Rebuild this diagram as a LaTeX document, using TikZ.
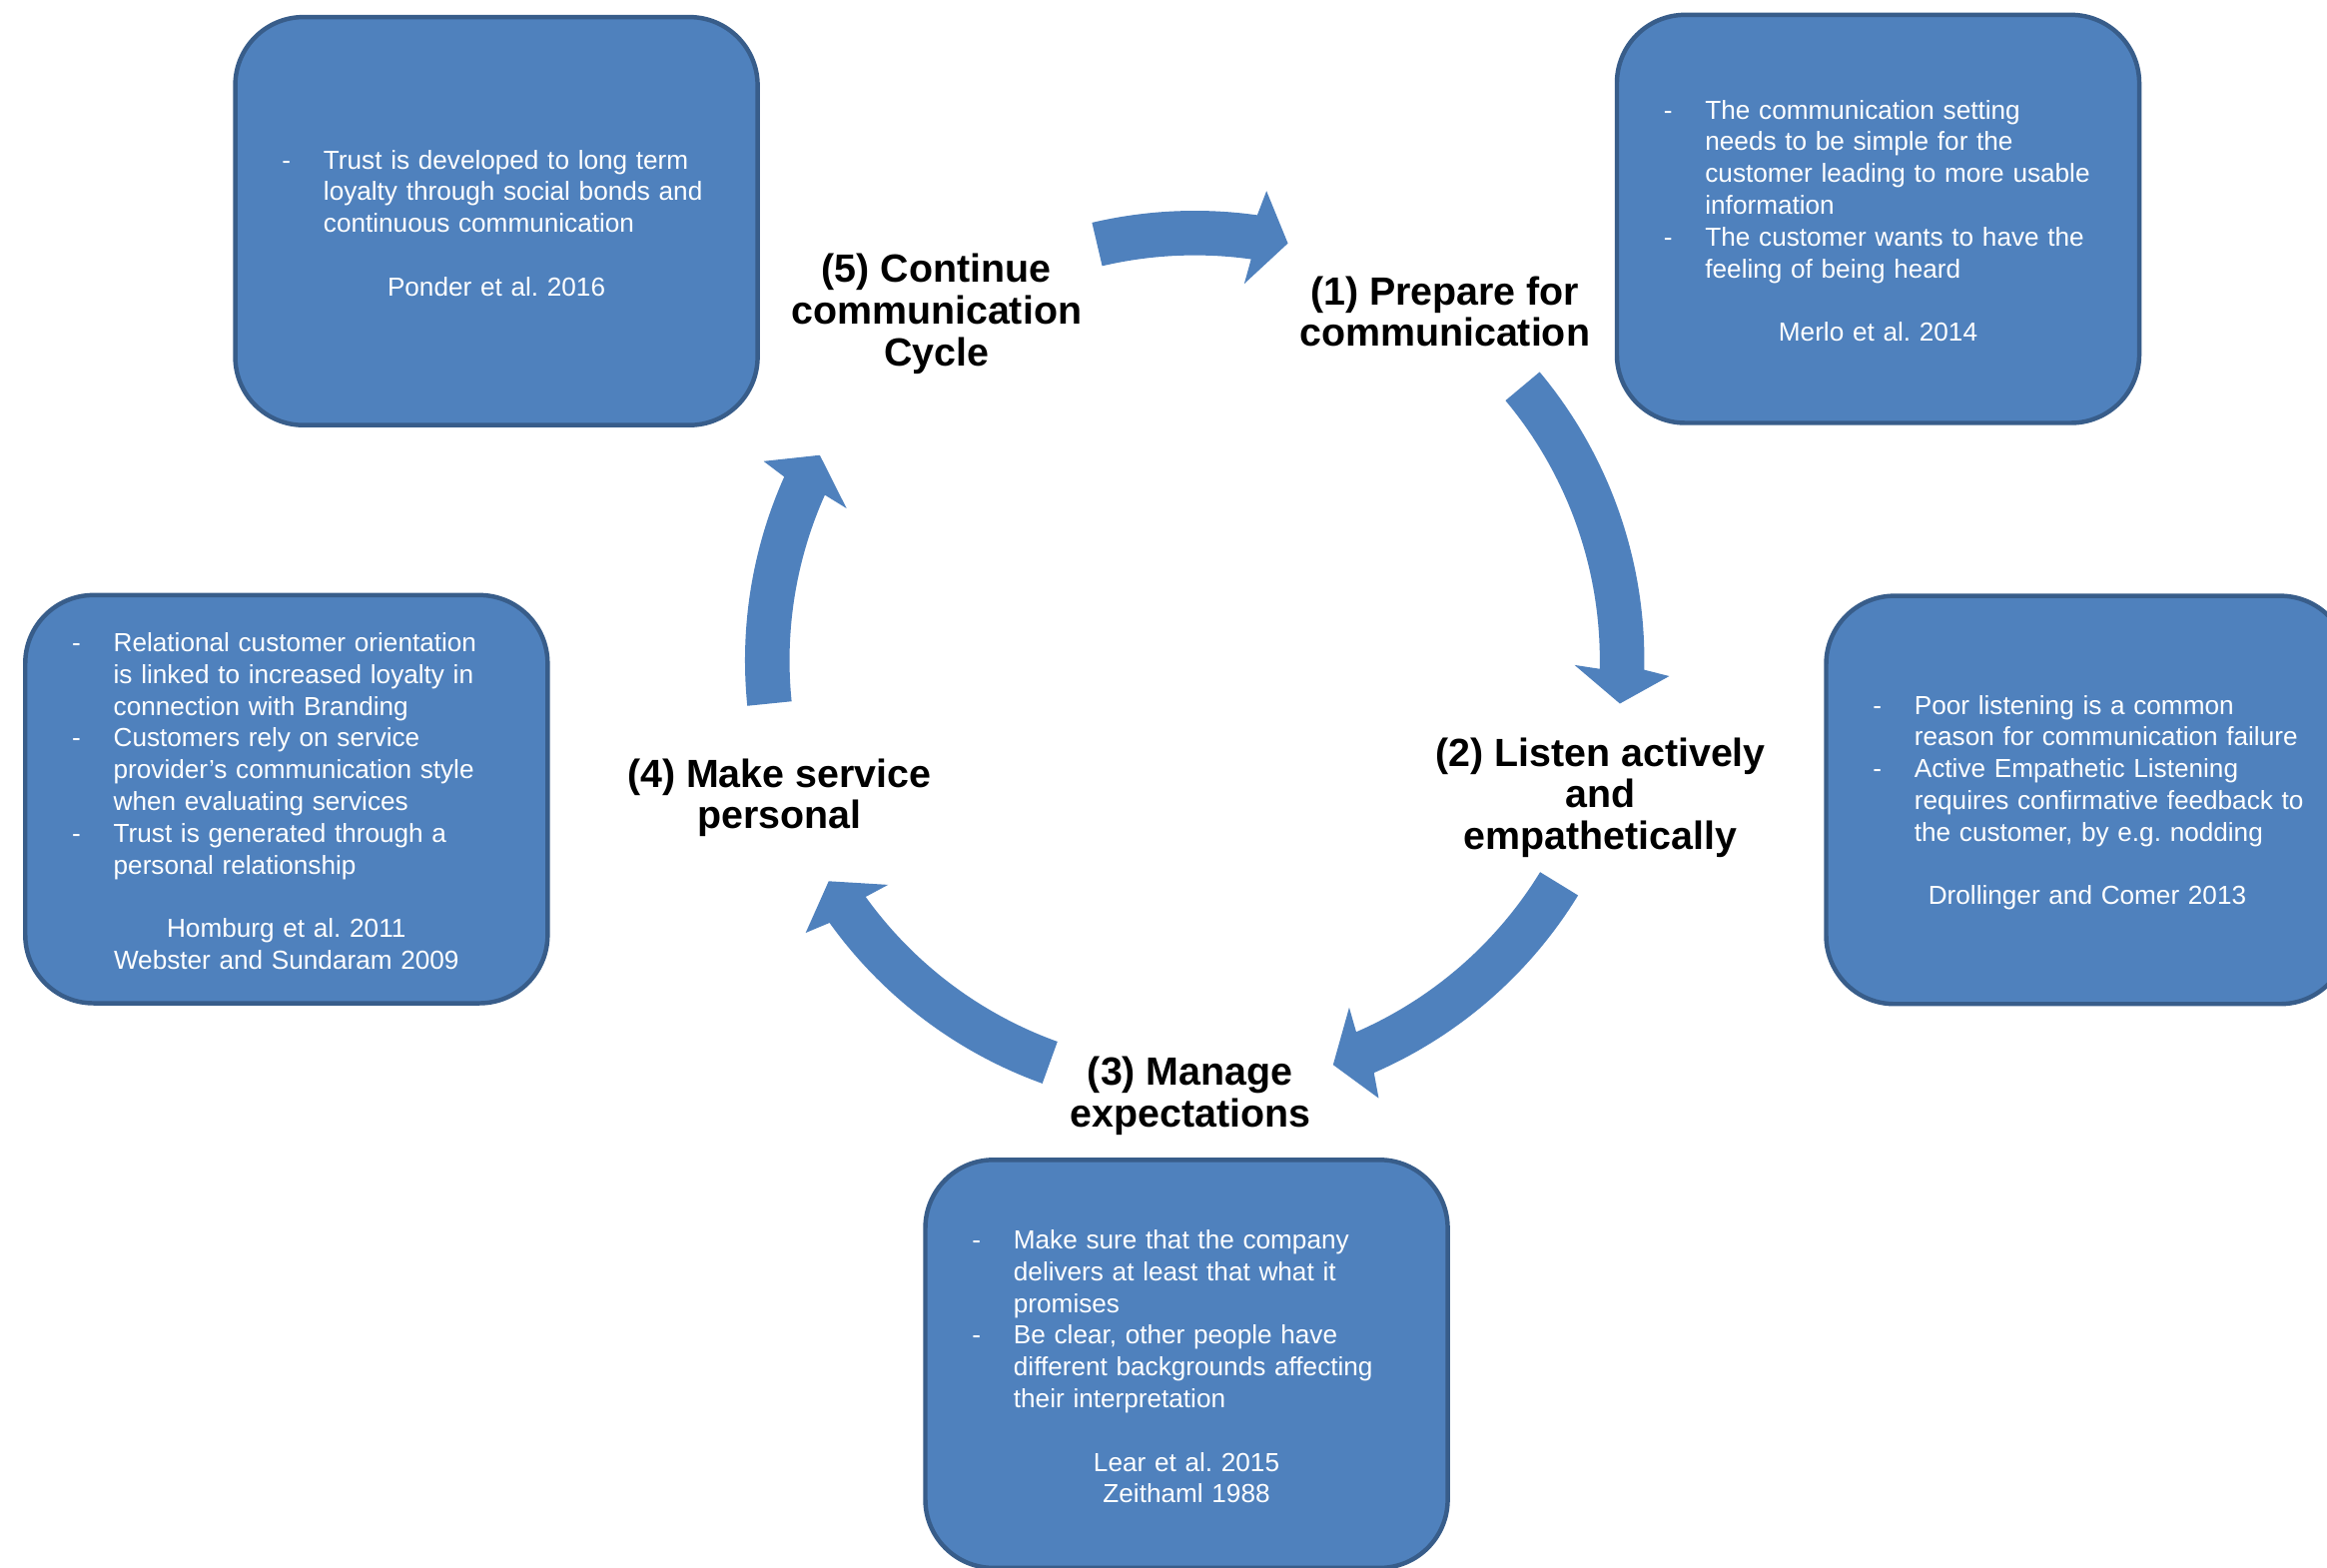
\documentclass[tikz,border=0pt]{standalone}
\usepackage{fontspec}
\setmainfont{Liberation Sans}
\frenchspacing

\definecolor{boxfill}{HTML}{4F81BD}
\definecolor{boxline}{HTML}{385D8A}

% one line of a dashed list, its continuation lines, a blank line and a centred reference
\newcommand{\dashitem}[1]{\par\noindent\makebox[28pt][l]{-}\mbox{#1}}
\newcommand{\contline}[1]{\par\noindent\hspace*{28pt}\mbox{#1}}
\newcommand{\blankline}{\par\noindent\mbox{}}
\newcommand{\refline}[1]{\par\noindent\hbox to\hsize{\hss#1\hss}}

% curved block arrow around the cycle centre: tail angle, shaft end angle
\newcommand{\blockarc}[2]{%
  \fill[boxfill] (#1:303) arc[start angle=#1, end angle=#2, radius=303]
    -- ({#2+0.7}:320) -- ({#2+4.6}:288) -- ({#2-0.5}:256)
    -- (#2:273) arc[start angle=#2, end angle=#1, radius=273] -- cycle;}

\begin{document}
\begin{tikzpicture}[x=1pt, y=-1pt,
  infobox/.style={draw=boxline, line width=3pt, fill=boxfill,
    rounded corners=46pt, minimum width=352pt, minimum height=275pt,
    inner sep=0pt, text width=289pt, align=left, text=white,
    font=\fontsize{17.6}{21.4}\selectfont},
  steplabel/.style={inner sep=0pt, align=center, text=black,
    font=\bfseries\fontsize{26.5}{28}\selectfont}]

\useasboundingbox (0,0) rectangle (1568,1056);
\fill[white] (0,0) rectangle (1568,1056);
\clip (0,0) rectangle (1568,1056);

% arrows of the cycle
\begin{scope}[shift={(805,445)}]
  \blockarc{-103.2}{-82}
  \blockarc{-39.9}{1.2}
  \blockarc{31.5}{66.5}
  \blockarc{109.8}{144.3}
  \blockarc{174.2}{204.1}
\end{scope}

% steps
\node[steplabel] (s5) at (631,211.5) {(5) Continue\\communication\\Cycle};
\node[steplabel] (s1) at (973.5,210) {(1) Prepare for\\communication};
\node[steplabel] (s2) at (1078.5,537.5) {(2) Listen actively\\and\\empathetically};
\node[steplabel] (s3) at (802,738.5) {(3) Manage\\expectations};
\node[steplabel] (s4) at (525,537.5) {(4) Make service\\personal};

% literature boxes
\node[infobox] (ponder) at (334.5,149) {};
\node[white, text width=289pt, align=left, inner sep=0pt,
  font=\fontsize{17.6}{21.4}\selectfont] (ponderText) at (334.5,146) {%
  \dashitem{Trust is developed to long term}
  \contline{loyalty through social bonds and}
  \contline{continuous communication}
  \blankline
  \refline{Ponder et al. 2016}};

\node[infobox] (merlo) at (1265.5,147.5) {};
\node[white, text width=289pt, align=left, inner sep=0pt,
  font=\fontsize{17.6}{21.4}\selectfont] (merloText) at (1265.5,144.5) {%
  \dashitem{The communication setting}
  \contline{needs to be simple for the}
  \contline{customer leading to more usable}
  \contline{information}
  \dashitem{The customer wants to have the}
  \contline{feeling of being heard}
  \blankline
  \refline{Merlo et al. 2014}};

\node[infobox] (drollinger) at (1406.5,539) {};
\node[white, text width=289pt, align=left, inner sep=0pt,
  font=\fontsize{17.6}{21.4}\selectfont] (drollingerText) at (1406.5,536.5) {%
  \dashitem{Poor listening is a common}
  \contline{reason for communication failure}
  \dashitem{Active Empathetic Listening}
  \contline{requires confirmative feedback to}
  \contline{the customer, by e.g. nodding}
  \blankline
  \refline{Drollinger and Comer 2013}};

\node[infobox] (homburg) at (193,538.5) {};
\node[white, text width=289pt, align=left, inner sep=0pt,
  font=\fontsize{17.6}{21.4}\selectfont] (homburgText) at (193,535.5) {%
  \dashitem{Relational customer orientation}
  \contline{is linked to increased loyalty in}
  \contline{connection with Branding}
  \dashitem{Customers rely on service}
  \contline{provider’s communication style}
  \contline{when evaluating services}
  \dashitem{Trust is generated through a}
  \contline{personal relationship}
  \blankline
  \refline{Homburg et al. 2011}
  \refline{Webster and Sundaram 2009}};

\node[infobox] (lear) at (799.5,919) {};
\node[white, text width=289pt, align=left, inner sep=0pt,
  font=\fontsize{17.6}{21.4}\selectfont] (learText) at (799.5,916.5) {%
  \dashitem{Make sure that the company}
  \contline{delivers at least that what it}
  \contline{promises}
  \dashitem{Be clear, other people have}
  \contline{different backgrounds affecting}
  \contline{their interpretation}
  \blankline
  \refline{Lear et al. 2015}
  \refline{Zeithaml 1988}};

\end{tikzpicture}
\end{document}
